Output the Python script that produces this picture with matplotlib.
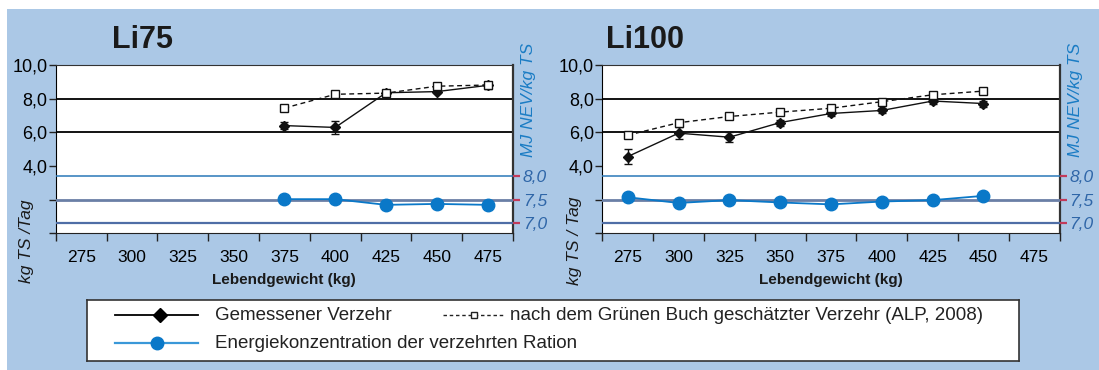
import numpy as np
import matplotlib.pyplot as plt
from matplotlib.patches import Rectangle

plt.rcParams['font.family'] = ['Liberation Sans', 'DejaVu Sans']

# ------- data -------#
weights = [275, 300, 325, 350, 375, 400, 425, 450, 475]
weight_labels = [str(w) for w in weights]

li75_x = [375, 400, 425, 450, 475]
li75_measured = [6.40, 6.29, 8.35, 8.42, 8.79]
li75_err = [0.22, 0.41, 0.08, 0.08, 0.2]
li75_estimated = [7.44, 8.26, 8.33, 8.74, 8.81]
li75_energy = [7.51, 7.51, 7.39, 7.41, 7.39]

li100_x = [275, 300, 325, 350, 375, 400, 425, 450]
li100_measured = [4.56, 5.95, 5.71, 6.58, 7.12, 7.30, 7.86, 7.71]
li100_err = [0.43, 0.35, 0.29, 0.18, 0.15, 0.15, 0.15, 0.18]
li100_estimated = [5.83, 6.57, 6.94, 7.20, 7.43, 7.82, 8.23, 8.45]
li100_energy = [7.55, 7.43, 7.49, 7.44, 7.40, 7.46, 7.49, 7.58]

left_ticks = [0, 2, 4, 6, 8, 10]
left_ticklabels = ['', '', '4,0', '6,0', '8,0', '10,0']
right_ticks = [7.0, 7.5, 8.0]
right_ticklabels = ['7,0', '7,5', '8,0']

# ------- colours -------#
bg_blue = '#abc8e6'
energy_blue = '#0a78c8'
label_blue = '#1a7cc4'
tick_blue = '#2f66a8'
tick_red = '#c23a5a'

W, H = 1099, 370
fig = plt.figure(figsize=(W / 100, H / 100), dpi=100, facecolor='white')
fig.add_artist(Rectangle((7 / W, 0), 1, (H - 9) / H, transform=fig.transFigure,
                         facecolor=bg_blue, edgecolor='none', zorder=0))


def draw_panel(left, title, title_x, xs, measured, err, estimated, energy, ylab, ylab_x):
    ax = fig.add_axes([left / W, (H - 233.3) / H, 457.3 / W, 168.3 / H])
    ax.set_facecolor('white')
    ax.set_xlim(262.5, 487.5)
    ax.set_ylim(0, 10)

    # grid lines
    for v in [6, 8]:
        ax.axhline(v, color='black', lw=1.3, zorder=1)

    ax.set_yticks(left_ticks)
    ax.set_yticklabels(left_ticklabels, fontsize=13)
    ax.tick_params(axis='y', length=5, width=1, pad=1, color='#222222')

    ax.set_xticks(weights)
    ax.set_xticklabels(weight_labels, fontsize=12.5)
    ax.set_xticks(np.arange(262.5, 500, 25), minor=True)
    ax.tick_params(axis='x', which='major', length=0, pad=12)
    ax.tick_params(axis='x', which='minor', length=6, width=1, color='#222222')

    for s in ['top', 'right']:
        ax.spines[s].set_color('#333333')
    ax.spines['right'].set_linewidth(1.6)
    ax.spines['left'].set_color('black')
    ax.spines['bottom'].set_color('#222222')

    ax.errorbar(xs, measured, yerr=err, color='#111111', lw=1, marker='D', ms=5.5,
                capsize=3, elinewidth=1, zorder=4)
    ax.plot(xs, estimated, color='#111111', lw=1, ls=(0, (3.5, 2.5)), marker='s', ms=5.5,
            mfc='white', mec='#111111', mew=1, zorder=5)

    ax2 = ax.twinx()
    ax2.set_ylim(6.79, 10.34)
    ax2.axhline(8.0, color='#2a78b8', lw=1.1, zorder=1)
    ax2.axhline(7.5, color='#6a7fa6', lw=2.0, zorder=1)
    ax2.axhline(7.0, color='#4f6ea6', lw=1.6, zorder=1)
    ax2.plot(xs, energy, color=energy_blue, lw=1.3, marker='o', ms=9,
             mfc=energy_blue, mec=energy_blue, zorder=6)
    ax2.set_yticks(right_ticks)
    ax2.set_yticklabels(right_ticklabels, fontsize=12.5, style='italic', color=tick_blue)
    ax2.tick_params(axis='y', length=5, width=1.6, color=tick_red, pad=2)
    for s in ['top', 'right', 'left', 'bottom']:
        ax2.spines[s].set_visible(False)

    fig.text(title_x / W, (H - 40) / H, title, fontsize=22, fontweight='bold',
             ha='left', va='center', color='#1a1a1a')
    fig.text((left + 228) / W, (H - 280) / H, 'Lebendgewicht (kg)', fontsize=11,
             fontweight='bold', ha='center', va='center', color='#1a1a1a')
    fig.text(ylab_x / W, (H - 241) / H, ylab, fontsize=12.5, style='italic',
             rotation=90, ha='center', va='center', color='#1a1a1a')
    fig.text((left + 473) / W, (H - 100) / H, 'MJ NEV/kg TS', fontsize=12.5,
             style='italic', rotation=90, ha='center', va='center', color=label_blue)
    return ax


draw_panel(55.8, 'Li75', 112, li75_x, li75_measured, li75_err, li75_estimated,
           li75_energy, 'kg TS /Tag', 27)
draw_panel(602.4, 'Li100', 606, li100_x, li100_measured, li100_err, li100_estimated,
           li100_energy, 'kg TS / Tag', 575)

# ------- legend box -------#
lg = fig.add_axes([87 / W, (H - 361) / H, 932 / W, 61 / H])
lg.set_xlim(87, 1019)
lg.set_ylim(361, 300)
lg.set_xticks([])
lg.set_yticks([])
for s in lg.spines.values():
    s.set_color('#333333')
    s.set_linewidth(1.2)

lg.plot([115, 198], [315, 315], color='black', lw=1.3)
lg.plot([160], [315], marker='D', color='black', ms=7)
lg.text(215, 316, 'Gemessener Verzehr', fontsize=13.5, va='center', ha='left', color='#222222')

lg.plot([443, 505], [315, 315], color='#222222', lw=1, ls=(0, (2.5, 2)))
lg.plot([474], [315], marker='s', ms=4.5, mfc='white', mec='#222222', mew=1)
lg.text(510, 316, 'nach dem Grünen Buch geschätzter Verzehr (ALP, 2008)', fontsize=13.5,
        va='center', ha='left', color='#222222')

lg.plot([115, 198], [343, 343], color='#3a98d8', lw=1.6)
lg.plot([157], [343], marker='o', color=energy_blue, ms=9)
lg.text(215, 344, 'Energiekonzentration der verzehrten Ration', fontsize=13.5,
        va='center', ha='left', color='#222222')

fig.savefig('out.png', dpi=100, facecolor=fig.get_facecolor())
